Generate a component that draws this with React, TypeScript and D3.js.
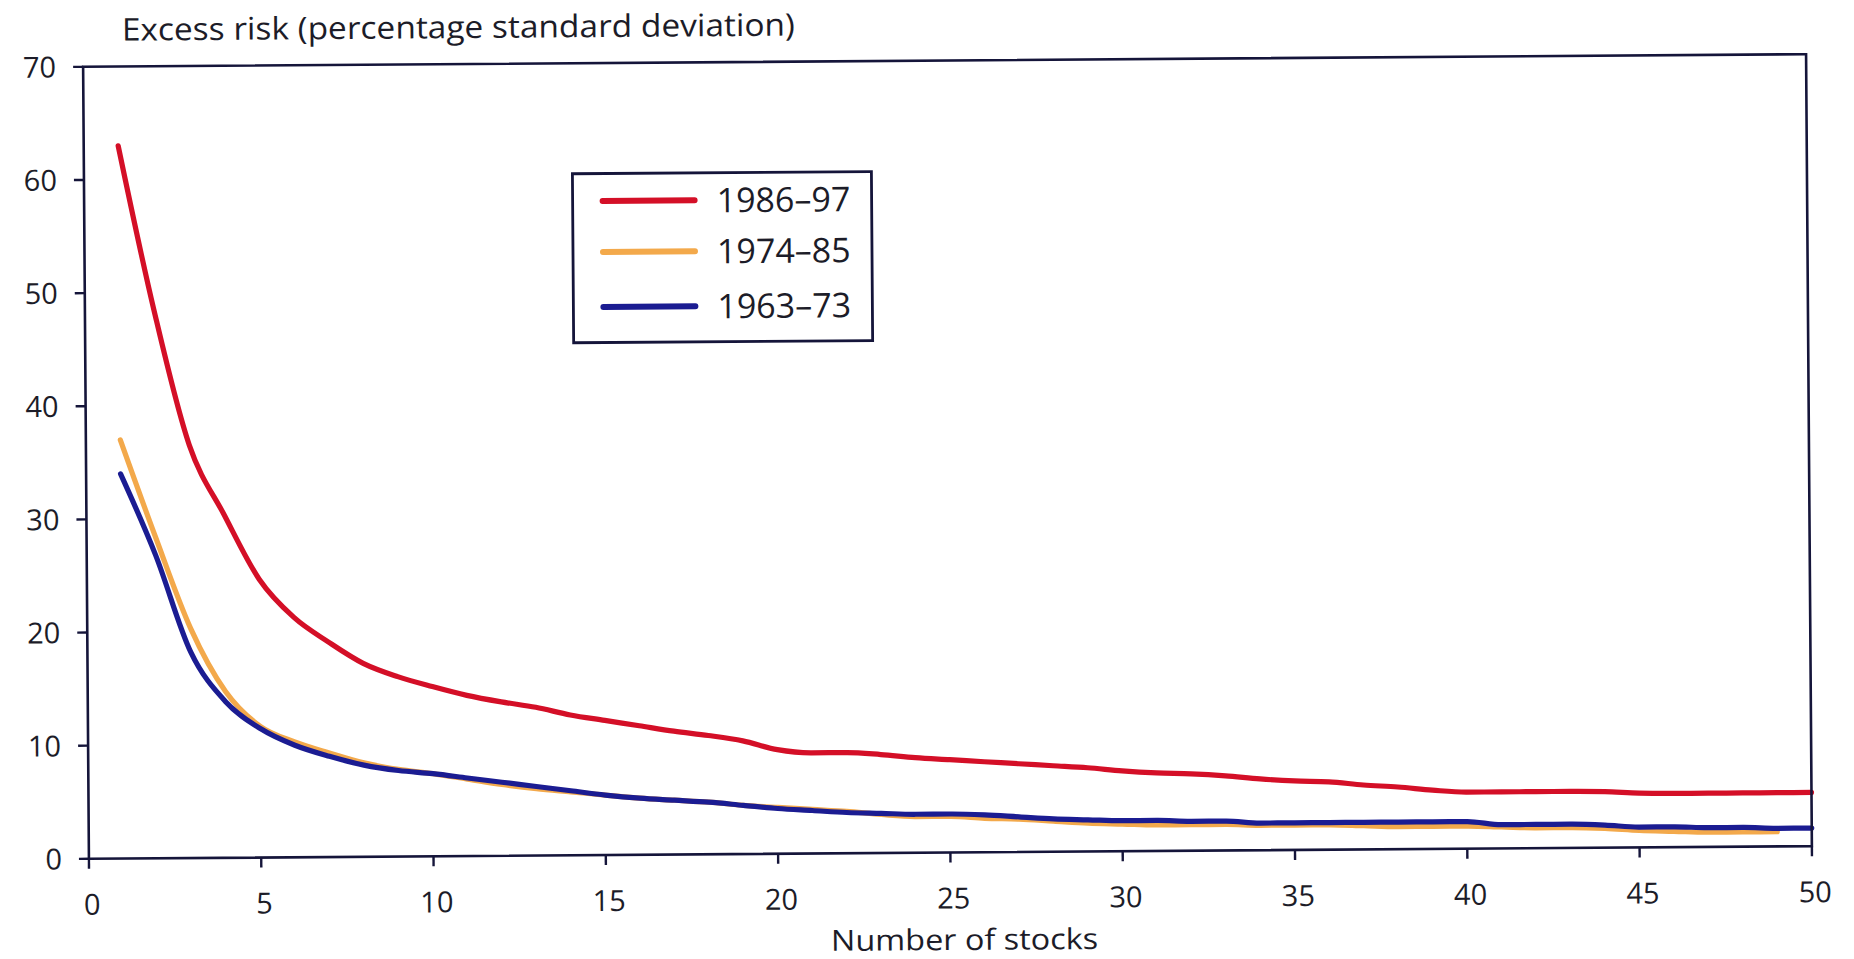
import React from 'react';
import * as d3 from 'd3';

// Number of stocks in the portfolio (x)
const stocks = [
  1, 2, 3, 4, 5, 6, 7, 8, 9, 10,
  11, 12, 13, 14, 15, 16, 17, 18, 19, 20,
  21, 22, 23, 24, 25, 26, 27, 28, 29, 30,
  31, 32, 33, 34, 35, 36, 37, 38, 39, 40,
  41, 42, 43, 44, 45, 46, 47, 48, 49, 50,
];

// Excess risk (percentage standard deviation) by period
const risk1986_97 = [
  63.0, 48.5, 36.5, 30.3, 24.6, 21.2, 19.0, 17.1, 15.9, 15.0,
  14.2, 13.6, 13.1, 12.4, 11.9, 11.4, 10.9, 10.5, 10.0, 9.2,
  8.9, 8.9, 8.7, 8.4, 8.2, 8.0, 7.8, 7.6, 7.4, 7.1,
  6.9, 6.8, 6.6, 6.3, 6.1, 6.0, 5.7, 5.5, 5.2, 5.0,
  5.0, 5.0, 5.0, 4.95, 4.8, 4.75, 4.75, 4.75, 4.75, 4.75,
];
const risk1974_85 = [
  37.0, 28.4, 20.3, 14.7, 11.6, 10.2, 9.2, 8.3, 7.7, 7.3,
  6.8, 6.3, 5.9, 5.6, 5.3, 5.0, 4.8, 4.6, 4.3, 4.1,
  3.9, 3.7, 3.4, 3.2, 3.2, 3.0, 2.9, 2.7, 2.5, 2.4,
  2.3, 2.3, 2.3, 2.2, 2.2, 2.2, 2.1, 2.0, 2.0, 2.0,
  1.9, 1.8, 1.8, 1.7, 1.5, 1.4, 1.3, 1.3, 1.3,
];
const risk1963_73 = [
  34.0, 26.8, 18.2, 13.8, 11.4, 9.9, 8.9, 8.1, 7.6, 7.3,
  6.9, 6.5, 6.1, 5.7, 5.3, 5.0, 4.8, 4.6, 4.3, 4.0,
  3.8, 3.6, 3.5, 3.4, 3.4, 3.3, 3.1, 2.9, 2.8, 2.7,
  2.7, 2.6, 2.6, 2.4, 2.4, 2.4, 2.4, 2.4, 2.4, 2.4,
  2.1, 2.1, 2.1, 2.0, 1.8, 1.8, 1.7, 1.7, 1.6, 1.6,
];

const seriesNames = ['1986–97', '1974–85', '1963–73'];
const seriesColors = ['#d40f27', '#f3a94b', '#1b1c92'];

const xTicks = [0, 5, 10, 15, 20, 25, 30, 35, 40, 45, 50];
const yTicks = [0, 10, 20, 30, 40, 50, 60, 70];

const titleText = 'Excess risk (percentage standard deviation)';
const xAxisLabel = 'Number of stocks';

const FONT = "'Open Sans', 'DejaVu Sans', sans-serif";
const INK = '#1c1c28';
const AXIS = '#15153a';

export default function App() {
  const W = 1854;
  const H = 959;
  const left = 86;
  const right = 1809;
  const top = 60.5;
  const bottom = 852.5;

  const x = d3.scaleLinear().domain([0, 50]).range([left, right]);
  const y = d3.scaleLinear().domain([0, 70]).range([bottom, top]);

  const line = d3
    .line<[number, number]>()
    .x((d) => x(d[0]))
    .y((d) => y(d[1]))
    .curve(d3.curveMonotoneX);

  const seriesData = [risk1986_97, risk1974_85, risk1963_73];
  const paths = seriesData.map((vals) =>
    line(vals.map((v, i) => [stocks[i], v] as [number, number]))
  );

  // legend layout
  const lg = { x: 574.5, y: 171, w: 299, h: 169 };
  const legendRows = [198.5, 249.5, 304.5];

  const cx = (left + right) / 2;
  const cy = (top + bottom) / 2;

  return (
    <svg
      width={W}
      height={H}
      style={{ position: 'absolute', left: 0, top: 0, background: '#ffffff' }}
    >
      <rect x={0} y={0} width={W} height={H} fill="#ffffff" />
      <g transform={`rotate(-0.42 ${cx} ${cy})`}>
        {/* title */}
        <text
          x={125}
          y={34.5}
          fontFamily={FONT}
          fontSize={31}
          fill={INK}
          textLength={673}
          lengthAdjust="spacingAndGlyphs"
        >
          {titleText}
        </text>

        {/* data lines */}
        {paths.map((p, i) => (
          <path
            key={seriesNames[i]}
            d={p || ''}
            fill="none"
            stroke={seriesColors[i]}
            strokeWidth={5.2}
            strokeLinejoin="round"
            strokeLinecap="round"
          />
        ))}

        {/* frame */}
        <rect
          x={left}
          y={top}
          width={right - left}
          height={bottom - top}
          fill="none"
          stroke={AXIS}
          strokeWidth={2.6}
        />

        {/* y ticks */}
        {yTicks.map((t) => (
          <g key={'y' + t}>
            <line x1={left - 10} x2={left} y1={y(t)} y2={y(t)} stroke={AXIS} strokeWidth={2.4} />
            <text
              x={left - 27}
              y={y(t)}
              dy="0.36em"
              textAnchor="end"
              fontFamily={FONT}
              fontSize={29}
              fill={INK}
            >
              {t}
            </text>
          </g>
        ))}

        {/* x ticks */}
        {xTicks.map((t) => (
          <g key={'x' + t}>
            <line x1={x(t)} x2={x(t)} y1={bottom} y2={bottom + 10} stroke={AXIS} strokeWidth={2.4} />
            <text
              x={x(t) + 3}
              y={bottom + 56}
              textAnchor="middle"
              fontFamily={FONT}
              fontSize={29}
              fill={INK}
            >
              {t}
            </text>
          </g>
        ))}

        {/* x axis label */}
        <text
          x={961}
          y={bottom + 97.5}
          textAnchor="middle"
          fontFamily={FONT}
          fontSize={29}
          fill={INK}
          textLength={267}
          lengthAdjust="spacingAndGlyphs"
        >
          {xAxisLabel}
        </text>

        {/* legend */}
        <rect
          x={lg.x}
          y={lg.y}
          width={lg.w}
          height={lg.h}
          fill="#ffffff"
          stroke={AXIS}
          strokeWidth={2.8}
        />
        {seriesNames.map((name, i) => (
          <g key={'lg' + name}>
            <line
              x1={604.5}
              x2={696.5}
              y1={legendRows[i]}
              y2={legendRows[i]}
              stroke={seriesColors[i]}
              strokeWidth={6}
              strokeLinecap="round"
            />
            <text
              x={718.5}
              y={legendRows[i] + 12}
              fontFamily={FONT}
              fontSize={34}
              fill={INK}
            >
              {name}
            </text>
          </g>
        ))}
      </g>
    </svg>
  );
}
